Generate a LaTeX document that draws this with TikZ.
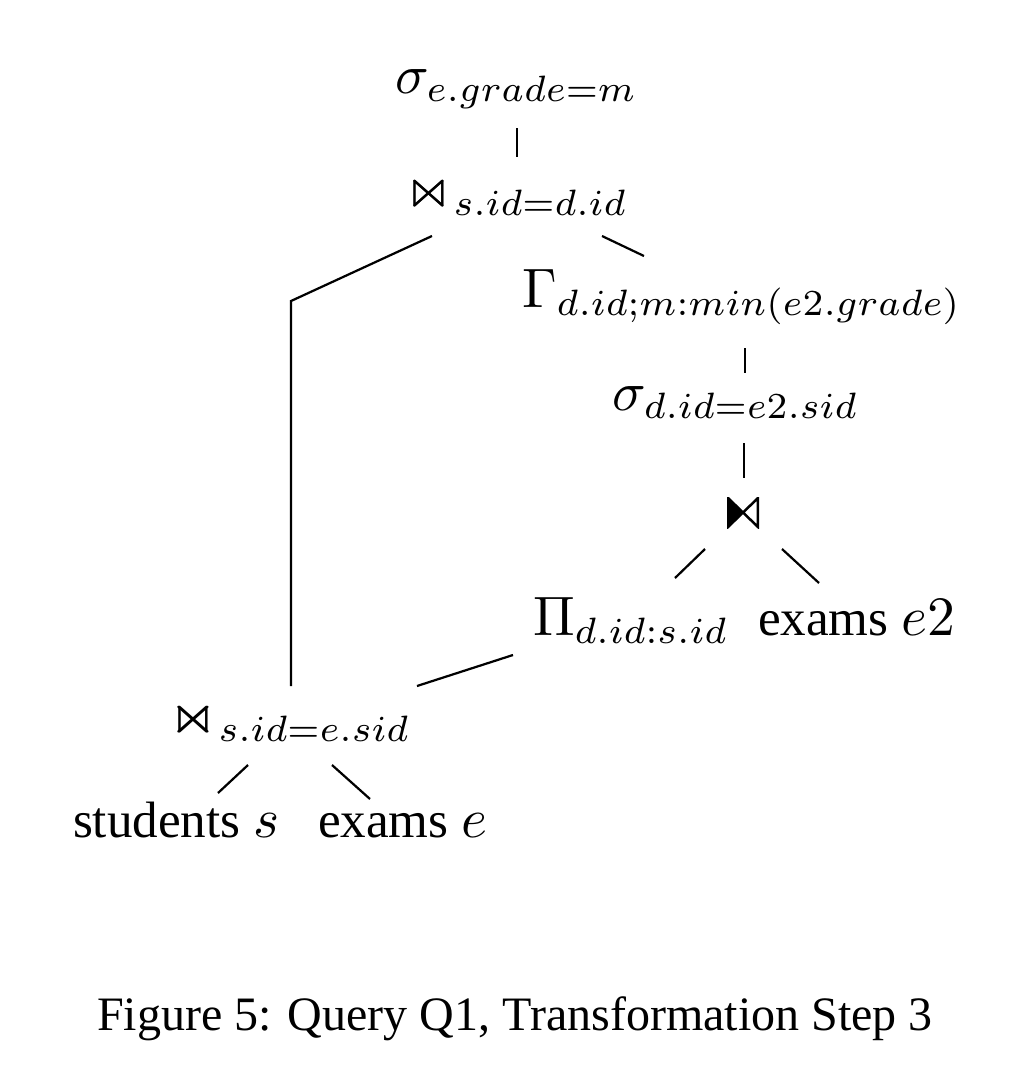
\documentclass[tikz,border=0pt]{standalone}
\usepackage[no-math]{fontspec}
\setmainfont{Liberation Serif}
\usepackage{amssymb}
\usepackage{graphicx}
\DeclareFontShape{OML}{cmm}{m}{it}{<-5.5>cmmi5<5.5-6.3>cmmi6<6.3-7.5>cmmi7<7.5-8.5>cmmi8<8.5-9.5>cmmi9<9.5-11>cmmi10<11->cmmi12}{}
\DeclareFontShape{OT1}{cmr}{m}{n}{<-5.5>cmr5<5.5-6.3>cmr6<6.3-7.5>cmr7<7.5-8.5>cmr8<8.5-9.5>cmr9<9.5-11>cmr10<11->cmr12}{}
\DeclareMathSizes{9.2}{10}{6.6}{5}
\newcommand{\bigjoin}{\mathrel{\scalebox{1.13}[1.0]{$\Join$}}}
\begin{document}
\begin{tikzpicture}[x=0.18pt,y=-0.18pt,
  lbl/.style={anchor=base west,inner sep=0pt,outer sep=0pt,font=\fontsize{9.2}{11}\selectfont},
  edge/.style={line width=0.4pt},
  halfjoin/.style={minimum width=32*0.18pt,minimum height=31*0.18pt,inner sep=0pt,
    path picture={
      \fill (path picture bounding box.north west) -- (path picture bounding box.center) -- (path picture bounding box.south west) -- cycle;
      \draw[line width=0.45pt,line join=miter] ([xshift=0.2pt,yshift=-0.2pt]path picture bounding box.north west) -- ([xshift=-0.2pt,yshift=0.2pt]path picture bounding box.south east) -- ([xshift=-0.2pt,yshift=-0.2pt]path picture bounding box.north east) -- ([xshift=0.2pt,yshift=0.2pt]path picture bounding box.south west) -- cycle;
    }}]
\useasboundingbox (0,0) rectangle (1030,1090);
% nodes
\node[lbl] (sig1) at (395,93) {$\sigma_{e.grade=m}$};
\node[lbl] (join1) at (404,207) {$\bigjoin_{s.id=d.id}$};
\node[lbl] (gam) at (522,307) {$\Gamma_{d.id;m:min(e2.grade)}$};
\node[lbl] (sig2) at (612,410) {$\sigma_{d.id=e2.sid}$};
\node[halfjoin] (join3) at (743,512.5) {};
\node[lbl] (proj) at (533,635) {$\Pi_{d.id:s.id}$};
\node[lbl] (ex2) at (758,635) {exams $e2$};
\node[lbl] (join2) at (169,733) {$\bigjoin_{s.id=e.sid}$};
\node[lbl] (stu) at (73,837) {students $s$};
\node[lbl] (ex1) at (318,837) {exams $e$};
\node[lbl,anchor=base,font=\fontsize{8.64}{10}\selectfont] (cap) at (515,1030) {Figure 5: Query Q1, Transformation Step 3};
% connector end points
\coordinate (a1) at (517,128); \coordinate (a2) at (517,157);
\coordinate (b1) at (432,236); \coordinate (b2) at (291,301); \coordinate (b3) at (291,686);
\coordinate (c1) at (602,236); \coordinate (c2) at (644,256);
\coordinate (d1) at (745,348); \coordinate (d2) at (745,373);
\coordinate (e1) at (744,443); \coordinate (e2) at (744,478);
\coordinate (f1) at (705,549); \coordinate (f2) at (675,578);
\coordinate (g1) at (782,549); \coordinate (g2) at (819,583);
\coordinate (h1) at (513,655); \coordinate (h2) at (417,686);
\coordinate (i1) at (248,765); \coordinate (i2) at (218,793);
\coordinate (j1) at (332,765); \coordinate (j2) at (370,799);
% connectors
\draw[edge] (a1) -- (a2);
\draw[edge] (b1) -- (b2) -- (b3);
\draw[edge] (c1) -- (c2);
\draw[edge] (d1) -- (d2);
\draw[edge] (e1) -- (e2);
\draw[edge] (f1) -- (f2);
\draw[edge] (g1) -- (g2);
\draw[edge] (h1) -- (h2);
\draw[edge] (i1) -- (i2);
\draw[edge] (j1) -- (j2);
\end{tikzpicture}
\end{document}
